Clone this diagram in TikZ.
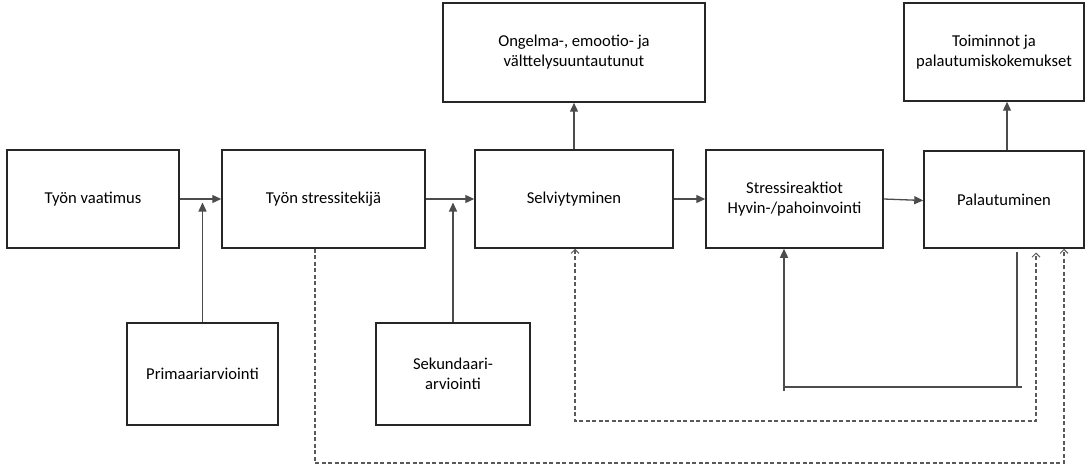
\documentclass[tikz,border=0pt]{standalone}
\usepackage{fontspec}
\setmainfont{Carlito}
\usetikzlibrary{arrows.meta,calc}
\begin{document}
\begin{tikzpicture}[x=1pt,y=-1pt,
  box/.style={draw=black!85,line width=1.5pt,rectangle,inner sep=0pt,align=center,
    font=\fontsize{16.6}{20}\selectfont},
  conn/.style={draw=black!70,line width=1.3pt},
  arr/.style={conn,-{Triangle[length=9pt,width=8pt]}},
  dsh/.style={draw=black!65,line width=1.2pt,dash pattern=on 4pt off 2.5pt}]
\useasboundingbox (0,0) rectangle (1092,468);
\node[box,minimum width=172pt,minimum height=98pt] (vaat) at (93,199) {Työn vaatimus};
\node[box,minimum width=203pt,minimum height=98pt] (stress) at (323.5,199) {Työn stressitekijä};
\node[box,minimum width=198pt,minimum height=98pt] (selv) at (574,199) {Selviytyminen};
\node[box,minimum width=177pt,minimum height=98pt] (reak) at (794.5,199) {Stressireaktiot\\Hyvin-/pahoinvointi};
\node[box,minimum width=160pt,minimum height=97pt] (pal) at (1004,199.5) {Palautuminen};
\node[box,minimum width=262pt,minimum height=99pt] (ong) at (574,52.5) {Ongelma-, emootio- ja\\välttelysuuntautunut};
\node[box,minimum width=180pt,minimum height=98pt] (toim) at (994,52) {Toiminnot ja\\palautumiskokemukset};
\node[box,minimum width=151pt,minimum height=102pt] (prim) at (202.5,374) {Primaariarviointi};
\node[box,minimum width=154pt,minimum height=102pt] (sek) at (453,374) {Sekundaari-\\arviointi};

% main chain
\draw[arr] (vaat.east) -- (stress.west);
\draw[arr] (stress.east) -- (selv.west);
\draw[arr] (selv.east) -- (reak.west);
\draw[arr] (reak.east) -- ([yshift=-1pt]pal.west);
\draw[arr] (selv.north) -- (ong.south);
\coordinate (palTop) at ([xshift=3pt]pal.north);
\draw[arr] (palTop) -- (palTop |- toim.south);
% appraisals
\draw[arr,shorten >=3.5pt] (prim.north) -- (prim.north |- vaat.east);
\draw[arr,shorten >=3.5pt] (sek.north) -- (sek.north |- stress.east);

% solid feedback loop
\coordinate (l1) at (1017,252);
\coordinate (l2) at (1017,388);
\coordinate (l3) at (1022,387);
\coordinate (l4) at (784,387);
\coordinate (l5) at (784,391);
\draw[conn] (l1) -- (l2);
\draw[conn] (l3) -- (l4);
\draw[arr] (l5) -- (l5 |- reak.south);

% dashed loops
\coordinate (d1) at (575,421);
\coordinate (d2) at (1036,421);
\coordinate (d3) at (1036,252.5);
\draw[dsh,{Straight Barb[length=4pt,width=8pt,line width=1pt]}-{Straight Barb[length=4pt,width=8pt,line width=1pt]}] (d1 |- selv.south) -- (d1) -- (d2) -- (d3);
\coordinate (e0) at (315,249);
\coordinate (e1) at (315,463);
\coordinate (e2) at (1064,463);
\draw[dsh,-{Straight Barb[length=4pt,width=8pt,line width=1pt]}] (e0 |- stress.south) -- (e1) -- (e2) -- (e2 |- pal.south);
\end{tikzpicture}
\end{document}
